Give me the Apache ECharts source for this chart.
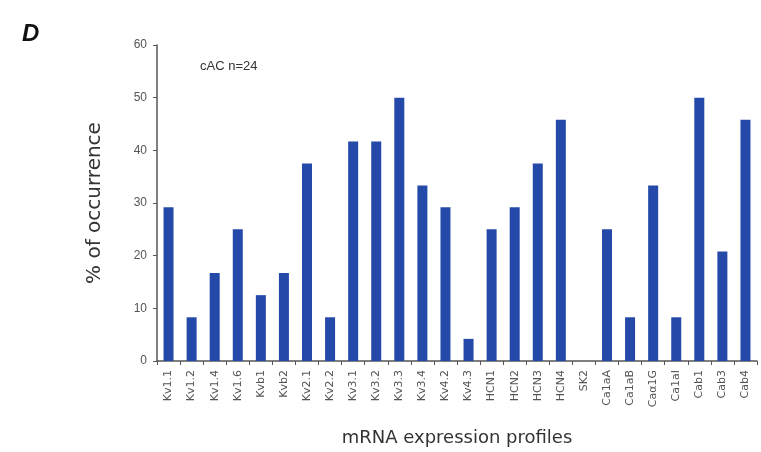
<!DOCTYPE html>
<html>
<head>
<meta charset="utf-8">
<script src="https://cdn.jsdelivr.net/npm/echarts@6/dist/echarts.min.js"></script>
<style>
  html, body { margin: 0; padding: 0; background: #fff; }
  #chart { width: 761px; height: 452px; }
</style>
</head>
<body>
<div id="chart"></div>
<script>
// mRNA profiles, cAC n=24
const categories = ['Kv1.1', 'Kv1.2', 'Kv1.4', 'Kv1.6', 'Kvb1', 'Kvb2', 'Kv2.1', 'Kv2.2', 'Kv3.1', 'Kv3.2',
  'Kv3.3', 'Kv3.4', 'Kv4.2', 'Kv4.3', 'HCN1', 'HCN2', 'HCN3', 'HCN4', 'SK2', 'Ca1aA',
  'Ca1aB', 'Caα1G', 'Ca1aI', 'Cab1', 'Cab3', 'Cab4']
const occurrence = [29.2, 8.3, 16.7, 25, 12.5, 16.7, 37.5, 8.3, 41.7, 41.7,
  50, 33.3, 29.2, 4.2, 25, 29.2, 37.5, 45.8, 0, 25,
  8.3, 33.3, 8.3, 50, 20.8, 45.8]
const yTicks = [0, 10, 20, 30, 40, 50, 60]

const chart = echarts.init(document.getElementById('chart'))

chart.setOption({
  animation: false,
  graphic: [
    {
      type: 'text', left: 22, top: 22,
      style: { text: 'D', font: 'italic bold 24px Arial', fill: '#111' }
    },
    {
      type: 'text', left: 200, top: 60,
      style: { text: 'cAC n=24', font: '13px Arial', fill: '#333' }
    }
  ],
  grid: { left: 157, right: 4, top: 45, bottom: 87 },
  xAxis: {
    type: 'category',
    data: categories,
    name: 'mRNA expression profiles',
    nameLocation: 'middle',
    nameGap: 68,
    nameTextStyle: { fontSize: 18, color: '#333', fontFamily: 'DejaVu Sans' },
    axisLine: { lineStyle: { color: '#555', width: 1.5 } },
    axisTick: { show: true, length: 4, lineStyle: { color: '#555' } },
    axisLabel: { rotate: 90, interval: 0, fontSize: 11, color: '#555', margin: 9, fontFamily: 'DejaVu Sans' }
  },
  yAxis: {
    type: 'value',
    min: 0,
    max: yTicks[yTicks.length - 1],
    interval: 10,
    name: '% of occurrence',
    nameLocation: 'middle',
    nameGap: 52,
    nameTextStyle: { fontSize: 20, color: '#333', fontFamily: 'DejaVu Sans' },
    axisLine: { show: true, lineStyle: { color: '#555', width: 1.5 } },
    axisTick: { show: true, length: 4, lineStyle: { color: '#555' } },
    axisLabel: { fontSize: 12, color: '#555', margin: 10 },
    splitLine: { show: false }
  },
  series: [{
    type: 'bar',
    data: occurrence,
    barWidth: 10,
    itemStyle: { color: '#2449a8' }
  }]
})
</script>
</body>
</html>
